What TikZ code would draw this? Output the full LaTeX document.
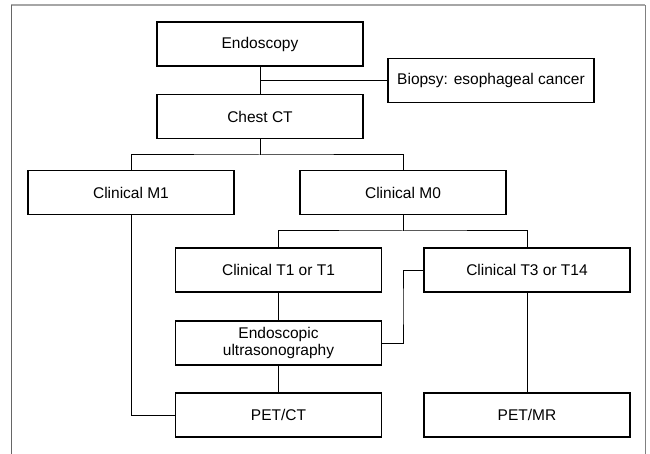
\documentclass[tikz,border=0pt]{standalone}
\usepackage{fontspec}
\setmainfont{Liberation Sans}
\begin{document}
\begin{tikzpicture}[x=1pt,y=-1pt,
    stage/.style={draw,line width=1.3pt,minimum width=206pt,minimum height=44pt,
      inner sep=0pt,align=center,font=\fontsize{15.5}{17}\selectfont},
    link/.style={line width=1pt}]
      \useasboundingbox (0,0) rectangle (650,454);

      % frame
      \draw[black!35,line width=1.5pt] (11,5) -- (645,5);
      \draw[black!60,line width=1pt] (11,5) -- (11,454);
      \draw[black!50,line width=1pt] (645,5) -- (645,454);

      \node[stage] (endo)   at (260,44)    {Endoscopy};
      \node[stage] (biopsy) at (491,80.5)  {Biopsy: esophageal cancer};
      \node[stage] (ct)     at (260,116.5) {Chest CT};

      \node[stage] (m1) at (131,192.5) {Clinical M1};
      \node[stage] (m0) at (403,192.5) {Clinical M0};

      \node[stage] (t1) at (278.5,270) {Clinical T1 or T1};
      \node[stage] (t3) at (527,270)   {Clinical T3 or T14};

      \node[stage] (eus)   at (278.5,343) {Endoscopic\\ultrasonography};
      \node[stage] (petct) at (278.5,415) {PET/CT};
      \node[stage] (petmr) at (527,415)   {PET/MR};

      \coordinate (ctfork) at (260,155);
      \coordinate (m0fork) at (403,231);
      \coordinate (bend)   at (403,306);

      \draw[link] (endo) -- (ct);
      \draw[link] (biopsy.west) -- (biopsy.west -| endo.south);
      \draw[link] (ct) -- (ctfork);
      \draw[link] (m1.north) |- (ctfork) -| (m0.north);
      \draw[link] (m0) -- (m0fork);
      \draw[link] (t1.north) |- (m0fork) -| (t3.north);
      \draw[link] (t1) -- (eus);
      \draw[link] (eus) -- (petct);
      \draw[link] (t3) -- (petmr);
      \draw[link] (m1.south) |- (petct.west);
      \draw[link] (t3.west) -| (bend) |- (eus.east);
    \end{tikzpicture}
\end{document}
